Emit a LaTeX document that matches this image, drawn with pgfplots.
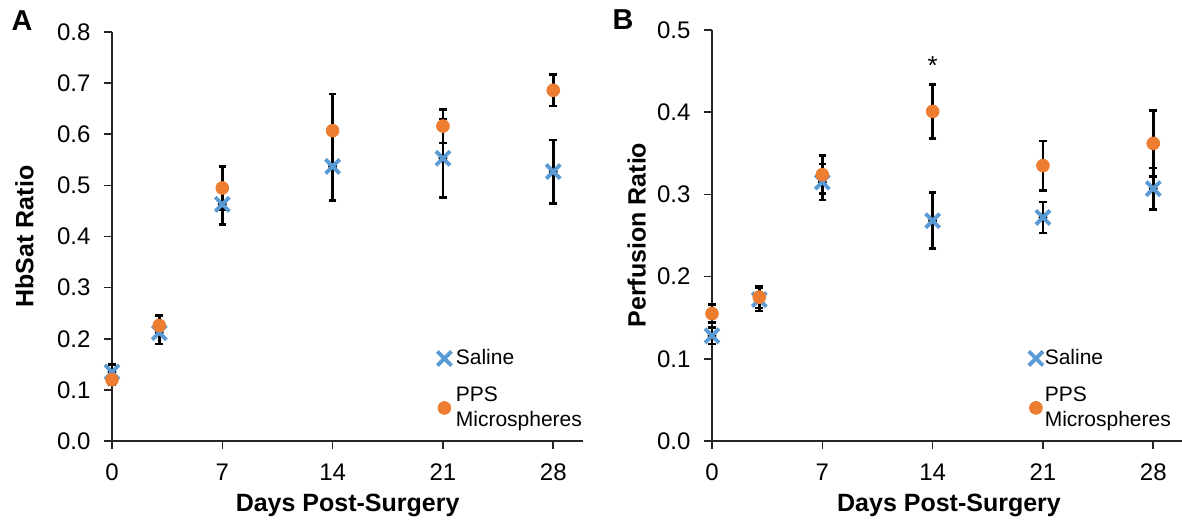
\documentclass[border=0pt]{standalone}
\usepackage{fontspec}
\setmainfont{Liberation Sans}
\usepackage{pgfplots}
\pgfplotsset{compat=1.18}

\definecolor{saline}{RGB}{91,155,213}
\definecolor{pps}{RGB}{237,125,49}

\tikzset{lab/.style={font=\fontsize{12.5}{15}\selectfont\bfseries, anchor=center}}

% 1 px of the reference = 0.5pt
\pgfplotsset{
  panel/.style={
    scale only axis, width=235.6pt,
    xmin=0, xmax=29.9, ymin=0,
    axis lines=left, axis line style={-, black!85, line width=0.8pt},
    tick align=outside, major tick length=3.8pt,
    tick style={black!85, line width=0.8pt},
    xtick={0,7,14,21,28}, ytick distance=0.1,
    /pgf/number format/assume math mode=true,
    ticklabel style={font=\fontsize{12}{14}\selectfont, inner sep=0pt},
    xticklabel shift=7.4pt, yticklabel shift=6.8pt,
    yticklabel style={/pgf/number format/fixed, /pgf/number format/fixed zerofill,
      /pgf/number format/precision=1},
    clip=false,
    legend image code/.code={\draw[##1] plot coordinates {(0pt,0pt)};},
    legend style={draw=none, fill=none, inner sep=0pt, row sep=9.5pt,
      font=\fontsize{10.5}{12.5}\selectfont,
      nodes={inner sep=0pt}, cells={anchor=west, align=left}},
  },
  errs/.style={forget plot, only marks, mark=none,
    error bars/.cd, y dir=both, y explicit,
    error bar style={black, line width=1.3pt},
    error mark options={black, rotate=90, mark size=1.9pt, line width=1.3pt}},
  sal/.style={only marks, mark=x, mark size=5pt, saline, line width=1.9pt},
  pp/.style={only marks, mark=*, mark size=3.2pt, mark options={draw=none, fill=pps}, pps},
}

\begin{document}
\begin{tikzpicture}
\path[use as bounding box] (0,0) rectangle (591pt,-262.5pt);

% panel A
\begin{axis}[panel, at={(56pt,-220.5pt)}, anchor=south west, height=204.5pt, ymax=0.8,
  xlabel={Days Post-Surgery}, ylabel={HbSat Ratio},
  every axis x label/.style={lab, at={(axis description cs:0.5,-0.1565)}},
  every axis y label/.style={lab, at={(axis description cs:-0.1857,0.5)}, rotate=90},
  legend style={at={(axis cs:20.62,0.1800)}, anchor=north west, column sep=2.2pt}]
\addplot[errs] coordinates {
 (0,0.135) +- (0,0.015) (3,0.212) +- (0,0.022) (7,0.463) +- (0,0.040)
 (14,0.537) +- (0,0.067) (21,0.553) +- (0,0.077) (28,0.527) +- (0,0.062)};
\addplot[errs] coordinates {
 (0,0.120) +- (0,0.010) (3,0.226) +- (0,0.020) (7,0.495) +- (0,0.042)
 (14,0.607) +- (0,0.072) (21,0.616) +- (0,0.033) (28,0.686) +- (0,0.031)};
\addplot[sal] coordinates {
 (0,0.135) (3,0.212) (7,0.463) (14,0.537) (21,0.553) (28,0.527)};
\addlegendentry{Saline}
\addplot[pp] coordinates {
 (0,0.120) (3,0.226) (7,0.495) (14,0.607) (21,0.616) (28,0.686)};
\addlegendentry{PPS\\Microspheres}
\end{axis}

% panel B
\begin{axis}[panel, at={(356pt,-220.5pt)}, anchor=south west, height=205.5pt, ymax=0.5,
  xlabel={Days Post-Surgery}, ylabel={Perfusion Ratio},
  every axis x label/.style={lab, at={(axis description cs:0.503,-0.1557)}},
  every axis y label/.style={lab, at={(axis description cs:-0.160,0.501)}, rotate=90},
  legend style={at={(axis cs:20.08,0.1120)}, anchor=north west, column sep=0.9pt}]
\addplot[errs] coordinates {
 (0,0.128) +- (0,0.010) (3,0.172) +- (0,0.014) (7,0.315) +- (0,0.022)
 (14,0.268) +- (0,0.034) (21,0.272) +- (0,0.019) (28,0.307) +- (0,0.025)};
\addplot[errs] coordinates {
 (0,0.155) +- (0,0.011) (3,0.175) +- (0,0.013) (7,0.324) +- (0,0.023)
 (14,0.401) +- (0,0.033) (21,0.335) +- (0,0.030) (28,0.362) +- (0,0.040)};
\addplot[sal] coordinates {
 (0,0.128) (3,0.172) (7,0.315) (14,0.268) (21,0.272) (28,0.307)};
\addlegendentry{Saline}
\addplot[pp] coordinates {
 (0,0.155) (3,0.175) (7,0.324) (14,0.401) (21,0.335) (28,0.362)};
\addlegendentry{PPS\\Microspheres}
\node[anchor=base, font=\fontsize{13}{15}\selectfont] at (axis cs:14,0.446) {*};
\end{axis}

\node[font=\fontsize{14.4}{17}\bfseries] at (11pt,-10.25pt) {A};
\node[font=\fontsize{14.4}{17}\bfseries] at (311.5pt,-10pt) {B};
\end{tikzpicture}
\end{document}
